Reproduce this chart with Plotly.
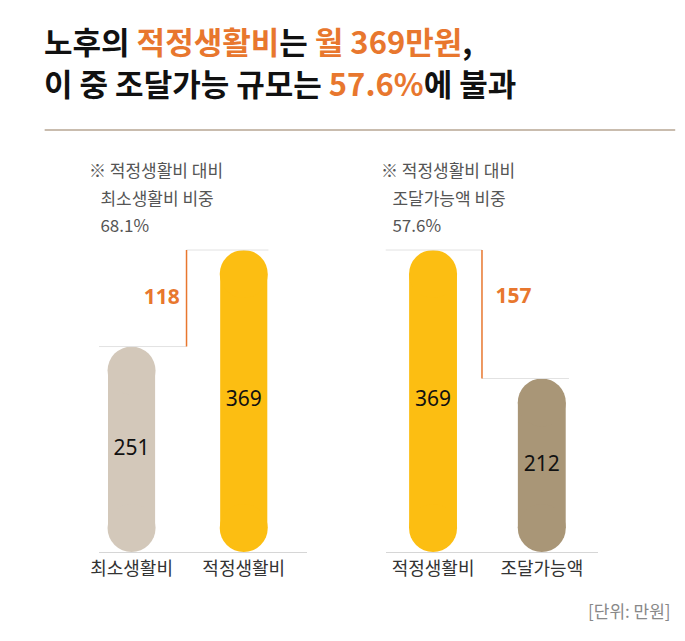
import plotly.graph_objects as go

# data
left_cats = ["최소생활비", "적정생활비"]
left_vals = [251, 369]
right_cats = ["적정생활비", "조달가능액"]
right_vals = [369, 212]
left_gap = 118
right_gap = 157
left_colors = ["#d3c8ba", "#fcbe12"]
right_colors = ["#fcbe12", "#a99677"]
left_note = ["※ 적정생활비 대비", "   최소생활비 비중", "   68.1%"]
right_note = ["※ 적정생활비 대비", "   조달가능액 비중", "   57.6%"]

W, H = 685, 641
DX, DY = -11, -8  # render offset correction
base_px = 552 + DY
y_max = 675.0
px_per_unit = (552 - 250) / 369
bar_px = 48
r_units = (bar_px / 2) / px_per_unit
y_max = base_px / px_per_unit

ORANGE = "#e8772e"
GRAY_LINE = "#e2e2e2"

fig = go.Figure()


def add_panel(cats, vals, colors, xa, ya, width):
    for i, (c, v, col) in enumerate(zip(cats, vals, colors)):
        fig.add_trace(go.Bar(x=[i], y=[v - 2 * r_units], base=[r_units], width=width,
                             marker=dict(color=col, line_width=0), xaxis=xa, yaxis=ya,
                             showlegend=False, hoverinfo="skip"))
        fig.add_trace(go.Scatter(x=[i, i], y=[r_units, v - r_units], mode="markers",
                                 marker=dict(size=bar_px, color=col, line_width=0),
                                 xaxis=xa, yaxis=ya, showlegend=False, cliponaxis=False,
                                 hoverinfo="skip"))
        fig.add_trace(go.Scatter(x=[i], y=[v / 2], mode="text", text=[str(v)],
                                 textfont=dict(size=21, color="#111", family="Noto Sans"),
                                 xaxis=xa, yaxis=ya, showlegend=False, hoverinfo="skip"))


add_panel(left_cats, left_vals, left_colors, "x", "y", 0.42)
add_panel(right_cats, right_vals, right_colors, "x2", "y2", 0.44)


def line(xs, ys, xa, ya, color, w):
    fig.add_trace(go.Scatter(x=xs, y=ys, mode="lines", line=dict(color=color, width=w),
                             xaxis=xa, yaxis=ya, showlegend=False, hoverinfo="skip"))


def gap_label(x, y, t, xa, ya):
    fig.add_trace(go.Scatter(x=[x], y=[y], mode="text", text=[f"<b>{t}</b>"],
                             textfont=dict(size=21, color=ORANGE, family="Noto Sans"),
                             xaxis=xa, yaxis=ya, showlegend=False, hoverinfo="skip"))


lo, hi = left_vals
line([-0.29, 0.49], [lo, lo], "x", "y", GRAY_LINE, 1)
line([0.49, 1.22], [hi, hi], "x", "y", GRAY_LINE, 1)
line([0.49, 0.49], [lo, hi], "x", "y", ORANGE, 1.5)
gap_label(0.27, (lo + hi) / 2, left_gap, "x", "y")

hi2, lo2 = right_vals
line([-0.44, 0.45], [hi2, hi2], "x2", "y2", GRAY_LINE, 1)
line([0.45, 1.25], [lo2, lo2], "x2", "y2", GRAY_LINE, 1)
line([0.45, 0.45], [lo2, hi2], "x2", "y2", ORANGE, 1.5)
gap_label(0.74, (lo2 + hi2) / 2 + 20, right_gap, "x2", "y2")

ydom = [(H - base_px) / H, 1]
axis_common = dict(showgrid=False, zeroline=False, showline=True, linecolor="#d6d6d6", linewidth=1,
                   tickmode="array", tickvals=[0, 1], ticks="",
                   tickfont=dict(size=18, color="#333", family="Noto Sans CJK KR"))
fig.update_layout(
    width=W, height=H, margin=dict(l=0, r=0, t=0, b=0),
    paper_bgcolor="white", plot_bgcolor="white", barmode="overlay",
    xaxis=dict(domain=[(95 + DX) / W, (305 + DX) / W], range=[-0.29, 1.56], ticktext=left_cats,
               anchor="y", **axis_common),
    xaxis2=dict(domain=[(385 + DX) / W, (600 + DX) / W], range=[-0.436, 1.518], ticktext=right_cats,
                anchor="y2", **axis_common),
    yaxis=dict(domain=ydom, range=[0, y_max], visible=False),
    yaxis2=dict(domain=ydom, range=[0, y_max], visible=False, anchor="x2"),
    font=dict(family="Noto Sans CJK KR"),
)

title_font = dict(size=31, color="#111", family="Noto Sans CJK KR")
o = lambda s: f"<span style='color:{ORANGE}'>{s}</span>"
fig.add_annotation(xref="paper", yref="paper", x=26 / W, y=1 - 32 / H, xanchor="left", yanchor="middle",
                   showarrow=False, font=title_font,
                   text=f"<b>노후의 {o('적정생활비')}는 {o('월 369만원')},</b>")
fig.add_annotation(xref="paper", yref="paper", x=26 / W, y=1 - 75 / H, xanchor="left", yanchor="middle",
                   showarrow=False, font=title_font,
                   text=f"<b>이 중 조달가능 규모는 {o('57.6%')}에 불과</b>")
fig.add_shape(type="line", xref="paper", yref="paper", x0=(40 + DX) / W, x1=(678 + DX) / W,
              y0=1 - (130 + DY) / H, y1=1 - (130 + DY) / H, line=dict(color="#c9bcae", width=2))

note_font = dict(size=17, color="#555", family="Noto Sans CJK KR")
for notes, nx in ((left_note, 86), (right_note, 381)):
    for k, t in enumerate(notes):
        fig.add_annotation(xref="paper", yref="paper", x=(nx + DX - 3) / W, y=1 - (170 + 27 * k + DY) / H,
                           xanchor="left", yanchor="middle", showarrow=False, font=note_font,
                           text=t.replace(" ", "&nbsp;"))
fig.add_annotation(xref="paper", yref="paper", x=(676 + DX) / W, y=1 - (610 + DY) / H, xanchor="right",
                   yanchor="middle", showarrow=False,
                   font=dict(size=17, color="#888", family="Noto Sans CJK KR"),
                   text="[단위: 만원]")

fig.write_html("out.html")
